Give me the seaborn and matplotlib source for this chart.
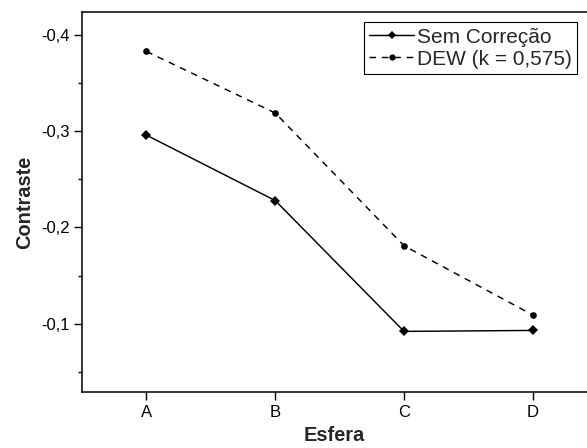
import matplotlib
matplotlib.use("Agg")
import matplotlib.pyplot as plt
import seaborn as sns
import pandas as pd
from matplotlib.ticker import MultipleLocator, FuncFormatter

categories = ["A", "B", "C", "D"]
sem_correcao = [-0.296, -0.228, -0.092, -0.093]
dew = [-0.383, -0.319, -0.181, -0.109]
series_names = ["Sem Correção", "DEW (k = 0,575)"]

df = pd.DataFrame({
    "Esfera": categories * 2,
    "Contraste": sem_correcao + dew,
    "Série": [series_names[0]] * 4 + [series_names[1]] * 4,
})

sns.set_style("ticks")
plt.rcParams["font.family"] = ["Liberation Sans", "DejaVu Sans"]

fig = plt.figure(figsize=(5.87, 4.48), dpi=100)
ax = fig.add_axes([82 / 587, 1 - 392 / 448, 1 - 82 / 587, (392 - 12) / 448])

sns.lineplot(
    data=df, x="Esfera", y="Contraste", hue="Série", style="Série",
    palette=["black", "black"], markers=["D", "o"],
    dashes=[(None, None), (4.5, 4)], linewidth=1.05, markersize=4.8,
    markeredgewidth=0, ax=ax, sort=False,
)

ax.set_xlim(-0.5, 3.42)
ax.set_ylim(-0.029, -0.424)
ax.yaxis.set_major_locator(MultipleLocator(0.1))
ax.yaxis.set_minor_locator(MultipleLocator(0.05))
ax.yaxis.set_major_formatter(FuncFormatter(lambda v, p: f"{v:.1f}".replace(".", ",")))

for s in ["left", "bottom", "top"]:
    ax.spines[s].set_linewidth(1.1)
    ax.spines[s].set_color("black")
ax.spines["right"].set_visible(False)

ax.tick_params(axis="both", which="major", length=5.5, width=1.0, labelsize=12,
               color="black", labelcolor="black", pad=3.5, direction="out")
ax.tick_params(axis="y", which="minor", length=3, width=1.0, color="black", direction="out")

ax.set_xlabel("Esfera", fontsize=14.4, fontweight="bold", labelpad=5)
ax.set_ylabel("Contraste", fontsize=14.4, fontweight="bold", labelpad=5)

leg = ax.legend(
    loc="upper right", fontsize=15, frameon=True, fancybox=False,
    edgecolor="black", framealpha=1, borderpad=0.25, handlelength=2.15,
    handletextpad=0.12, labelspacing=0.15, borderaxespad=0.5, title=None,
)
leg.get_frame().set_linewidth(0.8)
for h in leg.legend_handles:
    h.set_markersize(4.5)

fig.savefig("out.png", dpi=100)
